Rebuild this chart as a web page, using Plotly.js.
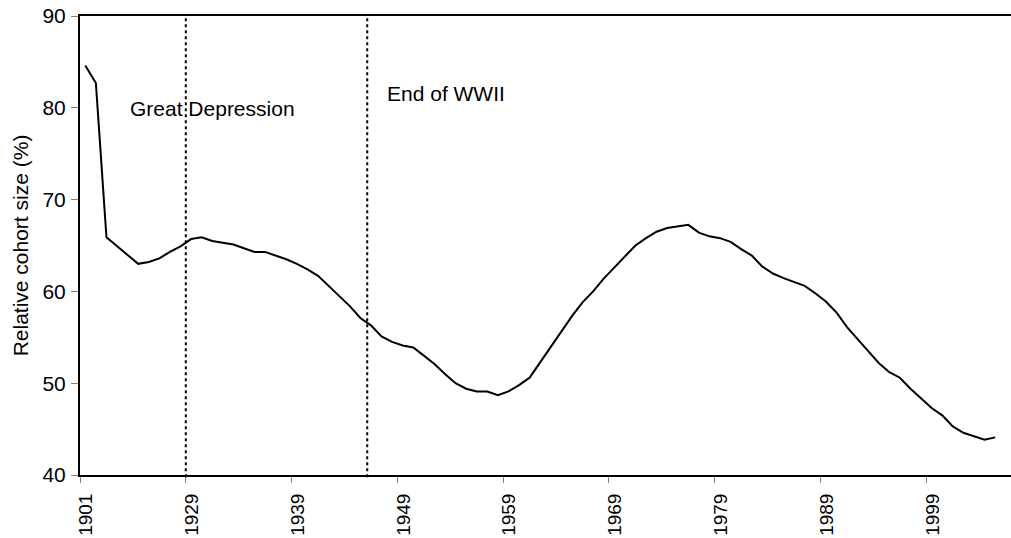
<!DOCTYPE html>
<html>
<head>
<meta charset="utf-8">
<script src="https://cdn.plot.ly/plotly-3.0.1.min.js"></script>
<style>html,body{margin:0;padding:0;background:#fff;}#chart{width:1011px;height:538px;}</style>
</head>
<body>
<div id="chart"></div>
<script>
// Relative cohort size (%), one value per annual category
const cohortSize = [
  84.6, 82.7, 65.9, 64.9, 63.9, 63.0, 63.2, 63.6, 64.3, 64.9,
  65.7, 65.9, 65.5, 65.3, 65.1, 64.7, 64.3, 64.3, 63.9, 63.5,
  63.0, 62.4, 61.7, 60.6, 59.6, 58.4, 57.1, 56.3, 55.1, 54.5,
  54.1, 53.9, 53.0, 52.1, 51.0, 50.0, 49.4, 49.1, 49.1, 48.7,
  49.1, 49.8, 50.6, 52.3, 54.0, 55.6, 57.3, 58.8, 60.0, 61.4,
  62.6, 63.9, 65.0, 65.8, 66.5, 66.9, 67.1, 67.25, 66.4, 66.0,
  65.8, 65.4, 64.6, 63.9, 62.7, 61.95, 61.45, 61.05, 60.6, 59.8,
  58.9, 57.7, 56.1, 54.8, 53.5, 52.2, 51.2, 50.6, 49.4, 48.4,
  47.3, 46.5, 45.3, 44.6, 44.2, 43.85, 44.1
];
const categoryCount = 88;
const tickLabels = ['1901', '1929', '1939', '1949', '1959', '1969', '1979', '1989', '1999'];
const tickEvery = 10;
const eventLabels = ['Great Depression', 'End of WWII'];
const eventPositions = [9.5, 26.65];

const xIdx = cohortSize.map((_, i) => i);
const tickVals = tickLabels.map((_, i) => i * tickEvery - 0.5);

const trace = {
  x: xIdx,
  y: cohortSize,
  type: 'scatter',
  mode: 'lines',
  line: {color: '#000000', width: 2},
  hoverinfo: 'skip',
  showlegend: false
};

const font = {family: 'Liberation Sans, Arial, sans-serif', size: 21, color: '#000000'};
const xTickFont = {family: 'Liberation Sans, Arial, sans-serif', size: 19, color: '#000000'};

const layout = {
  width: 1011,
  height: 538,
  margin: {l: 80, r: 0, t: 16, b: 63},
  paper_bgcolor: '#ffffff',
  plot_bgcolor: '#ffffff',
  font: font,
  showlegend: false,
  xaxis: {
    range: [-0.5, categoryCount - 0.5],
    tickmode: 'array',
    tickvals: tickVals,
    ticktext: tickLabels,
    tickangle: -90,
    ticks: 'outside',
    ticklen: 6,
    tickwidth: 1,
    tickcolor: '#808080',
    ticklabelshift: 6,
    ticklabelstandoff: 3,
    showgrid: false,
    zeroline: false,
    showline: true,
    linecolor: '#000000',
    linewidth: 2,
    mirror: true,
    tickfont: xTickFont
  },
  yaxis: {
    range: [40, 90],
    tickvals: [40, 50, 60, 70, 80, 90],
    ticks: 'outside',
    ticklen: 7,
    tickwidth: 1,
    tickcolor: '#808080',
    ticklabelstandoff: 1,
    showgrid: false,
    zeroline: false,
    showline: true,
    linecolor: '#000000',
    linewidth: 2,
    mirror: false,
    tickfont: font,
    title: {text: 'Relative cohort size (%)', font: font, standoff: 8}
  },
  shapes: eventPositions.map(p => ({
    type: 'line', xref: 'x', yref: 'paper',
    x0: p, x1: p, y0: -0.005, y1: 1,
    line: {color: '#000000', width: 2, dash: 'dot'}
  })),
  annotations: [
    {x: 4.0, y: 79.9, xref: 'x', yref: 'y', text: eventLabels[0], showarrow: false,
     xanchor: 'left', yanchor: 'middle', font: font},
    {x: 28.3, y: 81.6, xref: 'x', yref: 'y', text: eventLabels[1], showarrow: false,
     xanchor: 'left', yanchor: 'middle', font: font}
  ]
};

Plotly.newPlot('chart', [trace], layout, {displayModeBar: false, staticPlot: true});
</script>
</body>
</html>
